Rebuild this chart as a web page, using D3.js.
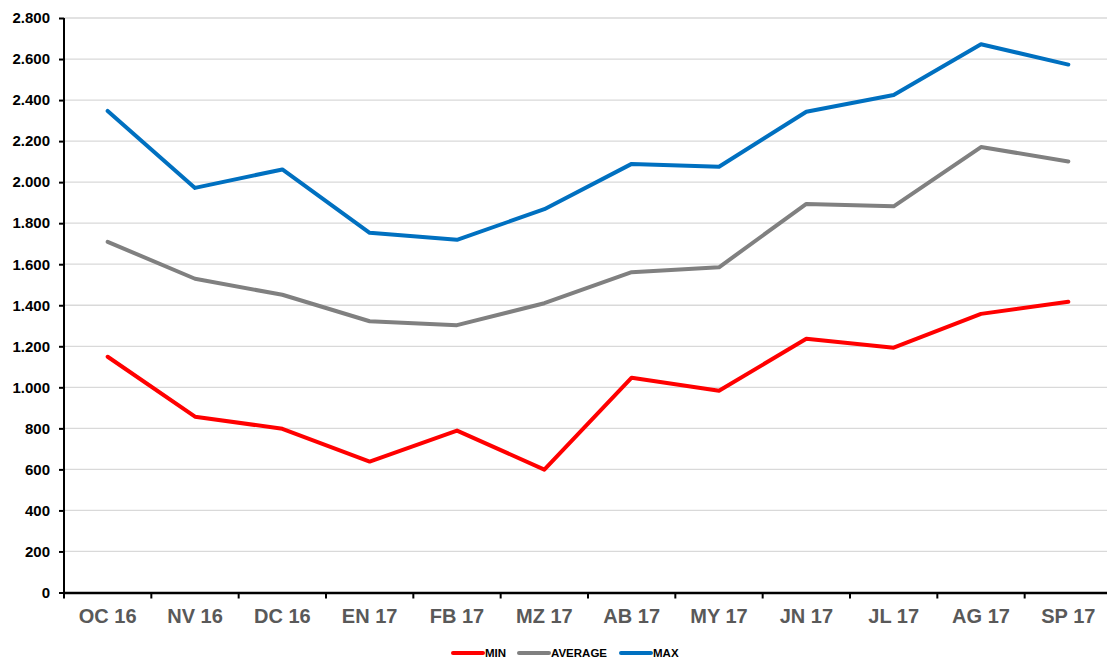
<!DOCTYPE html>
<html>
<head>
<meta charset="utf-8">
<script src="https://cdn.jsdelivr.net/npm/d3@7"></script>
<style>
  body { margin: 0; background: #fff; }
  svg { display: block; font-family: "Liberation Sans", Arial, sans-serif; }
</style>
</head>
<body>
<script>
const months = ["OC 16", "NV 16", "DC 16", "EN 17", "FB 17", "MZ 17", "AB 17", "MY 17", "JN 17", "JL 17", "AG 17", "SP 17"];
const minValues = [1149, 857, 798, 638, 789, 599, 1047, 983, 1237, 1193, 1358, 1417];
const avgValues = [1709, 1529, 1451, 1322, 1303, 1410, 1561, 1585, 1894, 1882, 2171, 2101];
const maxValues = [2347, 1972, 2062, 1753, 1719, 1868, 2089, 2075, 2343, 2425, 2672, 2573];
const yTicks = [0, 200, 400, 600, 800, 1000, 1200, 1400, 1600, 1800, 2000, 2200, 2400, 2600, 2800];

const series = [
  { name: "MIN", values: minValues, color: "#ff0000" },
  { name: "AVERAGE", values: avgValues, color: "#808080" },
  { name: "MAX", values: maxValues, color: "#0070c0" }
];

const width = 1107;
const height = 661;
const marginLeft = 64;
const marginTop = 18;
const marginBottom = 68;

const svg = d3.select("body").append("svg")
    .attr("width", width)
    .attr("height", height);

const x = d3.scaleBand()
    .domain(months)
    .range([marginLeft, 1112]);

const y = d3.scaleLinear()
    .domain([0, 2800])
    .range([height - marginBottom - 0.5, marginTop]);

const fmt = v => d3.format(",")(v).replace(/,/g, ".");

// gridlines
svg.append("g")
  .selectAll("line")
  .data(yTicks.slice(1))
  .join("line")
    .attr("x1", marginLeft)
    .attr("x2", width)
    .attr("y1", d => y(d))
    .attr("y2", d => y(d))
    .attr("stroke", "#d9d9d9")
    .attr("stroke-width", 1.3);

// y axis
const yAxis = svg.append("g")
    .attr("transform", `translate(${marginLeft},0)`)
    .call(d3.axisLeft(y).tickValues(yTicks).tickFormat(fmt).tickSize(5).tickPadding(9));
yAxis.select(".domain").attr("stroke", "#000").attr("stroke-width", 2)
    .attr("d", `M0,${y(0) + 6}V${y(2800)}`);
yAxis.selectAll(".tick line").attr("stroke", "#000").attr("stroke-width", 2);
yAxis.selectAll("text")
    .attr("fill", "#000")
    .attr("font-size", 15)
    .attr("font-weight", "bold");

// x axis
const xAxis = svg.append("g")
    .attr("transform", `translate(0,${y(0)})`)
    .call(d3.axisBottom(x).tickSize(0).tickPadding(16));
xAxis.select(".domain").attr("stroke", "#000").attr("stroke-width", 2.5);
xAxis.selectAll("text")
    .attr("fill", "#595959")
    .attr("font-size", 20)
    .attr("font-weight", "bold");

// category separators
svg.append("g")
  .selectAll("line")
  .data(months.slice(1))
  .join("line")
    .attr("x1", d => x(d))
    .attr("x2", d => x(d))
    .attr("y1", y(0))
    .attr("y2", y(0) + 6)
    .attr("stroke", "#000")
    .attr("stroke-width", 2);

const line = d3.line()
    .x((d, i) => x(months[i]) + x.bandwidth() / 2)
    .y(d => y(d));

svg.append("g")
  .selectAll("path")
  .data(series)
  .join("path")
    .attr("fill", "none")
    .attr("stroke", d => d.color)
    .attr("stroke-width", 4)
    .attr("stroke-linejoin", "round")
    .attr("stroke-linecap", "round")
    .attr("d", d => line(d.values));

// legend
const legendX = [453, 519, 621];
const legend = svg.append("g")
  .selectAll("g")
  .data(series)
  .join("g")
    .attr("transform", (d, i) => `translate(${legendX[i]},653)`);
legend.append("line")
    .attr("x1", 0).attr("x2", 30)
    .attr("stroke", d => d.color)
    .attr("stroke-width", 4)
    .attr("stroke-linecap", "round");
legend.append("text")
    .attr("x", 32)
    .attr("dy", "0.35em")
    .attr("font-size", 11.5)
    .attr("font-weight", "bold")
    .attr("fill", "#000")
    .text(d => d.name);
</script>
</body>
</html>
